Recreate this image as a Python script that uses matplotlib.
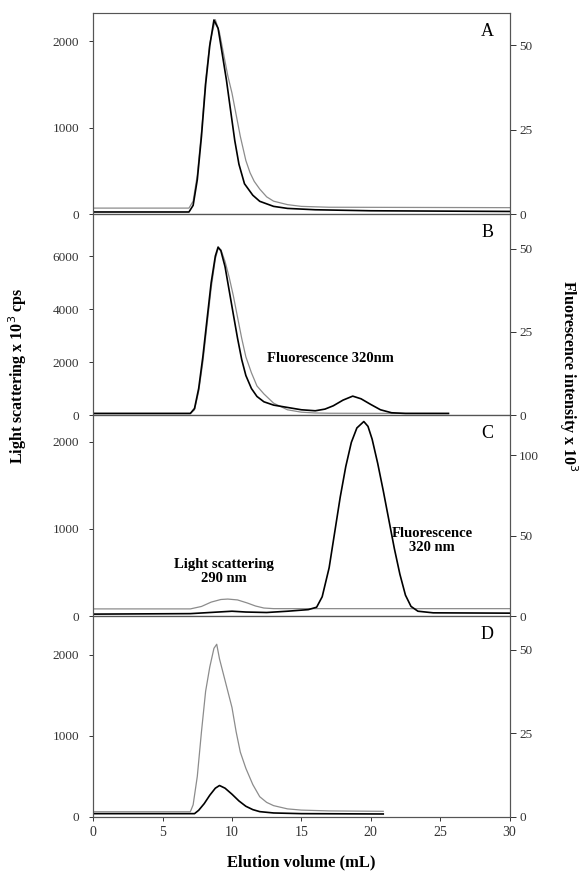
import matplotlib.pyplot as plt

plt.rcParams['font.family'] = ['Liberation Serif', 'DejaVu Serif']

# ---- panel A ----
a_ls_x = [0, 6.9, 7.2, 7.5, 7.8, 8.1, 8.4, 8.8, 9.1, 9.4, 9.7, 10.0, 10.3, 10.6,
          11.0, 11.3, 11.6, 12.0, 12.5, 13.0, 14.0, 15.0, 17.0, 30]
a_ls_y = [70, 70, 150, 450, 950, 1550, 1980, 2250, 2100, 1850, 1600, 1400, 1150, 900,
          620, 480, 380, 290, 200, 150, 110, 90, 80, 75]
a_fl_x = [0, 6.9, 7.2, 7.5, 7.8, 8.1, 8.4, 8.7, 9.0, 9.3, 9.6, 9.9, 10.2, 10.5,
          10.9, 11.5, 12.0, 13.0, 14.0, 16.0, 20.0, 25.0, 30]
a_fl_y = [0.64, 0.64, 2.6, 10.2, 23.0, 38.4, 49.9, 57.5, 55.0, 47.4, 39.7, 30.7, 21.8, 14.8,
          9.0, 5.6, 3.8, 2.3, 1.7, 1.3, 1.0, 0.9, 0.8]

# ---- panel B ----
b_ls_x = [0, 7.0, 7.3, 7.6, 7.9, 8.2, 8.5, 8.8, 9.0, 9.2, 9.5, 9.8, 10.1, 10.4, 10.7,
          11.0, 11.4, 11.8, 12.3, 13.0, 14.0, 15.0, 16.0, 17.0, 25.6]
b_ls_y = [60, 60, 200, 900, 2000, 3400, 4800, 5900, 6300, 6250, 5800, 5200, 4500, 3700, 2900,
          2200, 1600, 1100, 800, 450, 200, 110, 80, 70, 60]
b_fl_x = [0, 7.0, 7.3, 7.6, 7.9, 8.2, 8.5, 8.8, 9.0, 9.2, 9.5, 9.8, 10.1, 10.4, 10.7,
          11.0, 11.4, 11.8, 12.3, 13.0, 14.0, 15.0, 16.0, 16.7, 17.3, 18.0, 18.7, 19.3,
          20.0, 20.7, 21.5, 22.5, 25.6]
b_fl_y = [0.5, 0.5, 2.0, 8.0, 17.5, 28.7, 39.8, 47.8, 50.5, 49.4, 44.6, 37.4, 30.2, 23.1, 16.7,
          11.9, 8.0, 5.6, 4.0, 3.0, 2.3, 1.6, 1.3, 1.8, 2.8, 4.5, 5.7, 4.9,
          3.2, 1.6, 0.7, 0.5, 0.5]

# ---- panel C ----
c_ls_x = [0, 7.0, 7.8, 8.5, 9.2, 9.7, 10.4, 11.1, 11.7, 12.3, 13.0, 30]
c_ls_y = [82, 82, 110, 160, 190, 195, 185, 150, 115, 92, 85, 85]
c_fl_x = [0, 7.0, 9.0, 10.0, 11.0, 12.5, 14.0, 15.5, 16.1, 16.5, 17.0, 17.4, 17.8, 18.2,
          18.6, 19.0, 19.5, 19.8, 20.1, 20.5, 20.9, 21.3, 21.7, 22.1, 22.5, 22.9, 23.4, 24.5, 30]
c_fl_y = [1.2, 1.5, 2.5, 3.0, 2.5, 2.2, 3.0, 4.0, 5.5, 12, 30, 52, 74, 93,
          108, 117, 121, 118, 110, 95, 78, 60, 42, 26, 13, 6, 3, 2, 1.8]

# ---- panel D ----
d_ls_x = [0, 7.0, 7.2, 7.5, 7.8, 8.1, 8.4, 8.7, 8.9, 9.1, 9.4, 9.7, 10.0, 10.3, 10.6,
          11.0, 11.5, 12.0, 12.5, 13.0, 14.0, 15.0, 17.0, 20.9]
d_ls_y = [65, 65, 150, 500, 1050, 1550, 1850, 2080, 2130, 1950, 1750, 1550, 1350, 1050, 800,
          600, 400, 250, 180, 140, 100, 85, 75, 70]
d_fl_x = [0, 7.3, 7.6, 8.0, 8.4, 8.8, 9.1, 9.5, 10.0, 10.5, 11.0, 11.5, 12.0, 13.0, 15.0, 20.9]
d_fl_y = [1.0, 1.0, 2.0, 4.0, 6.5, 8.6, 9.4, 8.6, 6.8, 4.8, 3.2, 2.2, 1.6, 1.2, 1.0, 0.9]

panels = [
    ('A', a_ls_x, a_ls_y, a_fl_x, a_fl_y, 2325, [0, 1000, 2000], 59.5, [0, 25, 50]),
    ('B', b_ls_x, b_ls_y, b_fl_x, b_fl_y, 7590, [0, 2000, 4000, 6000], 60.4, [0, 25, 50]),
    ('C', c_ls_x, c_ls_y, c_fl_x, c_fl_y, 2307, [0, 1000, 2000], 125, [0, 50, 100]),
    ('D', d_ls_x, d_ls_y, d_fl_x, d_fl_y, 2478, [0, 1000, 2000], 60, [0, 25, 50]),
]

fig, axes = plt.subplots(4, 1, figsize=(5.79, 8.80), dpi=100, sharex=True)
fig.subplots_adjust(left=0.161, right=0.880, top=0.985, bottom=0.0716, hspace=0)

spine_col = '#555555'
for ax, (name, lx, ly, fx, fy, lmax, lticks, fmax, fticks) in zip(axes, panels):
    ax2 = ax.twinx()
    ax.plot(lx, ly, color='#8c8c8c', lw=0.9)
    ax2.plot(fx, fy, color='black', lw=1.2)
    ax.set_xlim(0, 30)
    ax.set_ylim(0, lmax)
    ax2.set_ylim(0, fmax)
    ax.set_yticks(lticks)
    ax2.set_yticks(fticks)
    ax.set_xticks(range(0, 31, 5))
    ax.tick_params(axis='y', length=3, width=0.7, pad=7, labelsize=9.5, colors='#333333')
    ax2.tick_params(axis='y', length=4, width=0.7, pad=3, labelsize=9.5, colors='#333333')
    ax.tick_params(axis='x', length=3, width=0.7, labelsize=10, colors='#333333', direction='out')
    for a in (ax, ax2):
        for s in a.spines.values():
            s.set_color(spine_col)
            s.set_linewidth(0.8)
    ax.text(0.947, 0.91, name, transform=ax.transAxes, ha='center', va='center', fontsize=13)

axes[0].spines['top'].set_color('#aaaaaa')

axes[1].text(17.1, 2130, 'Fluorescence 320nm', ha='center', va='center',
             fontsize=10.5, fontweight='bold')
axes[2].text(9.4, 511, 'Light scattering\n290 nm', ha='center', va='center',
             fontsize=10.5, fontweight='bold', linespacing=1.1)
axes[2].text(24.4, 863, 'Fluorescence\n320 nm', ha='center', va='center',
             fontsize=10.5, fontweight='bold', linespacing=1.1)

fig.text(0.03, 0.573, 'Light scattering x 10$^3$ cps', rotation=90, ha='center', va='center',
         fontsize=11.5, fontweight='bold')
fig.text(0.982, 0.573, 'Fluorescence intensity x 10$^3$', rotation=270, ha='center', va='center',
         fontsize=11.5, fontweight='bold')
fig.text(0.52, 0.011, 'Elution volume (mL)', ha='center', va='bottom',
         fontsize=12, fontweight='bold')

fig.savefig('out.png', dpi=100)
